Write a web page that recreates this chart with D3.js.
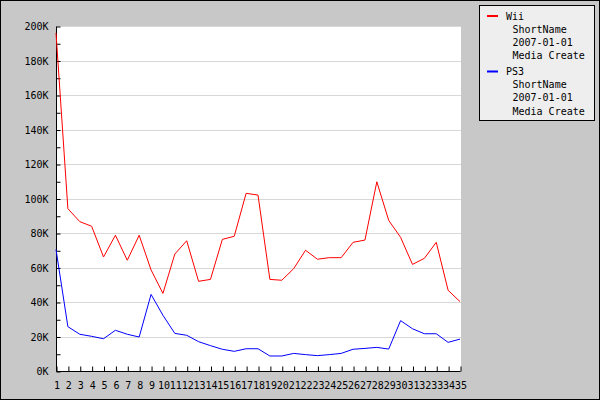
<!DOCTYPE html>
<html>
<head>
<meta charset="utf-8">
<script src="https://cdn.jsdelivr.net/npm/d3@7"></script>
<style>
html,body{margin:0;padding:0;background:#c8c8c8;}
svg{display:block;}
text{font-family:"DejaVu Sans Mono",monospace;font-size:10px;fill:#000;}
</style>
</head>
<body>
<svg id="chart" width="600" height="400"></svg>
<script>
const weeks = d3.range(1, 36);
const wiiValues = [196000,94100,86600,83900,66100,78700,64200,78700,58600,45000,67800,75500,52000,53100,76300,78100,103000,102000,53100,52600,59300,70000,64800,65700,65700,74600,75900,109700,87300,77500,61800,65300,74600,46800,40200];
const ps3Values = [70500,25700,21300,20100,18700,23600,21300,19700,44400,32300,21800,20700,17000,14700,12600,11400,12900,12900,8700,8700,10200,9500,8900,9500,10200,12600,13100,13700,12700,29200,24500,21600,21600,16600,18500];
const yTicks = [0,20000,40000,60000,80000,100000,120000,140000,160000,180000,200000];
const legendLines = [
  {name:"Wii", sub:["ShortName","2007-01-01","Media Create"], color:"#ff0000"},
  {name:"PS3", sub:["ShortName","2007-01-01","Media Create"], color:"#0000ff"}
];

const svg = d3.select("#chart");
// outer background + border
svg.append("rect").attr("x",0.5).attr("y",0.5).attr("width",599).attr("height",399)
  .attr("fill","#c8c8c8").attr("stroke","#000");

const x = d3.scaleLinear().domain([1,35]).range([56,460]);
const y = d3.scaleLinear().domain([0,200000]).range([371,26]);

// plot background
svg.append("rect").attr("x",x(1)).attr("y",y(200000)).attr("width",461-x(1)).attr("height",y(0)-y(200000)).attr("fill","#fff");

// gridlines
svg.append("g").selectAll("line").data(yTicks.filter(d=>d>0)).join("line")
  .attr("x1",x(1)).attr("x2",461)
  .attr("y1",d=>Math.round(y(d))+0.5).attr("y2",d=>Math.round(y(d))+0.5)
  .attr("stroke","#d8d8d8").attr("stroke-width",1);

// Y axis
const yAxis = d3.axisLeft(y).tickValues(d3.range(0,200001,10000)).tickSize(-4)
  .tickFormat(d => d%20000===0 ? (d/1000)+"K" : "");
const gy = svg.append("g").attr("transform",`translate(${x(1)+0.5},0.5)`).call(yAxis);
gy.select(".domain").attr("stroke","#000").attr("d",`M0,${y(200000)}V${y(0)}`);
gy.selectAll(".tick line").attr("stroke","#000");
gy.selectAll(".tick text").attr("x",-8).style("font-family","DejaVu Sans Mono").style("font-size","10px").attr("fill","#000");

// X axis
const xAxis = d3.axisBottom(x).tickValues(weeks).tickSize(-5).tickFormat(d3.format("d"));
const gx = svg.append("g").attr("transform",`translate(0.5,${Math.round(y(0))+0.5})`).call(xAxis);
gx.select(".domain").attr("stroke","#000").attr("d",`M${x(1)},0H${x(35)}`);
gx.selectAll(".tick line").attr("stroke","#000");
gx.selectAll(".tick text").attr("y",10).style("font-family","DejaVu Sans Mono").style("font-size","10px").attr("fill","#000");

// lines
const line = d3.line().x((d,i)=>x(weeks[i])).y(d=>y(d));
svg.append("path").datum(ps3Values).attr("d",line).attr("fill","none").attr("stroke","#0000ff").attr("stroke-width",1);
svg.append("path").datum(wiiValues).attr("d",line).attr("fill","none").attr("stroke","#ff0000").attr("stroke-width",1);

// legend
const lg = svg.append("g");
lg.append("rect").attr("x",479.5).attr("y",5.5).attr("width",115).attr("height",115)
  .attr("fill","#eeeeee").attr("stroke","#000");
legendLines.forEach((s,i)=>{
  const top = 16 + i*55.5;
  lg.append("line").attr("x1",487).attr("x2",498).attr("y1",top).attr("y2",top)
    .attr("stroke",s.color).attr("stroke-width",2);
  lg.append("text").attr("x",506).attr("y",top).attr("dy","0.35em").text(s.name);
  s.sub.forEach((t,j)=>{
    lg.append("text").attr("x",512.5).attr("y",top+13.2*(j+1)).attr("dy","0.35em").text(t);
  });
});
</script>
</body>
</html>
